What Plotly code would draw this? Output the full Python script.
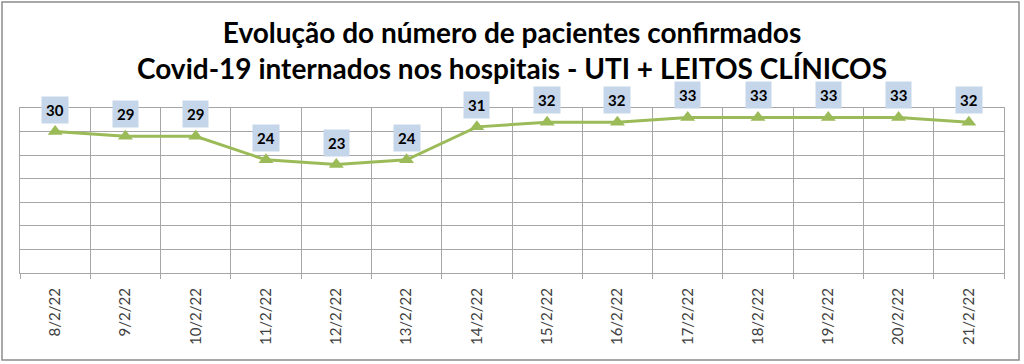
import plotly.graph_objects as go

dates = ["8/2/22", "9/2/22", "10/2/22", "11/2/22", "12/2/22", "13/2/22", "14/2/22",
         "15/2/22", "16/2/22", "17/2/22", "18/2/22", "19/2/22", "20/2/22", "21/2/22"]
values = [30, 29, 29, 24, 23, 24, 31, 32, 32, 33, 33, 33, 33, 32]

title_lines = ["Evolução do número de pacientes confirmados",
               "Covid-19 internados nos hospitais - UTI + LEITOS CLÍNICOS"]

GREEN = "#9bbb59"
GRID = "#a6a6a6"
FONT = "Lato, 'Open Sans', sans-serif"

fig = go.Figure()
fig.add_trace(go.Scatter(
    x=dates, y=values, mode="lines+markers",
    line=dict(color=GREEN, width=3),
    marker=dict(symbol="triangle-up", size=13, color=GREEN),
    hoverinfo="skip", showlegend=False,
))

for d, v in zip(dates, values):
    fig.add_annotation(
        x=d, y=v, text=f"<b>{v}</b>", showarrow=False, yshift=22,
        bgcolor="#c5d5ea", borderpad=4,
        font=dict(family=FONT, size=15, color="#000000"),
    )

W, H = 1024, 364
L, R, T, B = 20, 20, 108, 91
pw, ph = W - L - R, H - T - B

def px_x(x):
    return (x - L) / pw

def px_y(y):
    return (H - B - y) / ph

fig.add_shape(type="rect", xref="paper", yref="paper",
              x0=px_x(2), x1=px_x(1019), y0=px_y(360), y1=px_y(2),
              line=dict(color="#8c8c8c", width=1.5), layer="below")

fig.add_annotation(
    xref="paper", yref="paper", x=px_x(512), y=px_y(50),
    text="<b>" + title_lines[0] + "</b><br><b>" + title_lines[1] + "</b>",
    showarrow=False, font=dict(family=FONT, size=28, color="#000000"),
    align="center", xanchor="center", yanchor="middle",
)

fig.update_layout(
    width=W, height=H,
    margin=dict(l=L, r=R, t=T, b=B, autoexpand=False),
    paper_bgcolor="white", plot_bgcolor="white",
    xaxis=dict(
        type="category", tickson="boundaries", range=[-0.5, len(dates) - 0.5],
        showgrid=True, gridcolor=GRID, gridwidth=1,
        showline=True, linecolor=GRID, linewidth=1, mirror=True,
        ticks="outside", ticklen=5, tickcolor=GRID,
        tickangle=-90, ticklabelstandoff=8,
        tickfont=dict(family=FONT, size=15, color="#404040"),
        fixedrange=True, automargin=False,
    ),
    yaxis=dict(
        range=[0, 35], dtick=5, showticklabels=False,
        showgrid=True, gridcolor=GRID, gridwidth=1,
        showline=True, linecolor=GRID, linewidth=1, mirror=True,
        zeroline=False, fixedrange=True,
    ),
)

fig.write_html("out.html", config={"displayModeBar": False},
               post_script="document.body.style.margin='0';document.body.style.overflow='hidden';")
